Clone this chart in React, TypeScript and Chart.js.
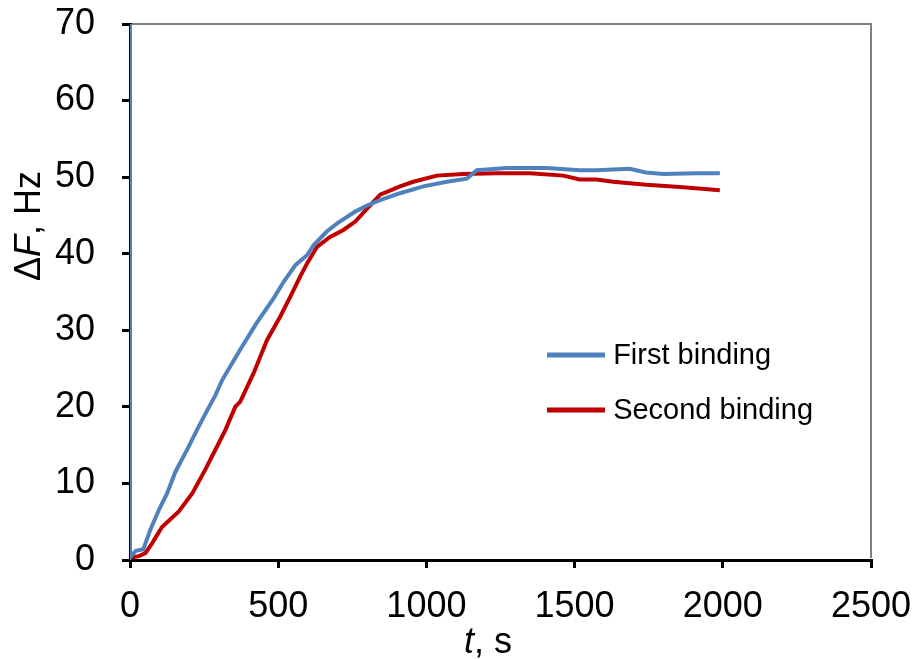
import React, { useEffect, useRef } from "react";
import { Chart, registerables } from "chart.js";

Chart.register(...registerables);

// First binding (blue)
const firstTimes = [0, 0, 10, 20, 45, 69, 97, 125, 153, 198, 226, 260, 288, 311, 372, 428, 485, 518, 558, 597, 619, 664, 700, 760, 800, 844, 911, 990, 1069, 1136, 1170, 1271, 1406, 1517, 1574, 1686, 1740, 1799, 1911, 1990];
const firstValues = [75, 0.3, 0.8, 1.2, 1.4, 4.0, 6.5, 8.7, 11.5, 14.8, 17.0, 19.5, 21.5, 23.5, 27.5, 31.0, 34.2, 36.3, 38.5, 39.8, 41.1, 42.9, 44.0, 45.5, 46.3, 47.0, 47.9, 48.8, 49.4, 49.8, 50.9, 51.2, 51.2, 50.9, 50.9, 51.1, 50.6, 50.4, 50.5, 50.5];

// Second binding (red)
const secondTimes = [0, 30, 52, 75, 108, 164, 210, 254, 288, 322, 355, 372, 417, 462, 507, 541, 574, 597, 631, 675, 720, 760, 810, 844, 911, 956, 1035, 1125, 1237, 1349, 1462, 1517, 1574, 1630, 1742, 1855, 1990];
const secondValues = [0.3, 0.5, 0.9, 2.2, 4.3, 6.3, 8.7, 11.8, 14.4, 17.0, 20.0, 20.7, 24.4, 28.7, 31.8, 34.4, 37.0, 38.7, 40.9, 42.2, 43.1, 44.2, 46.3, 47.7, 48.8, 49.4, 50.2, 50.4, 50.5, 50.5, 50.2, 49.7, 49.7, 49.4, 49.0, 48.7, 48.3];

const seriesNames = ["First binding", "Second binding"];
const seriesColors = ["#4F81BD", "#C00000"];

const FONT = "'Liberation Sans', Arial, sans-serif";

const overlayPlugin = {
  id: "overlay",
  afterDraw(chart: any) {
    const ctx = chart.ctx;
    const ca = chart.chartArea;
    const w = ca.right - ca.left;
    const h = ca.bottom - ca.top;
    ctx.save();
    // top/right frame
    ctx.strokeStyle = "#808080";
    ctx.lineWidth = 2;
    ctx.beginPath();
    ctx.moveTo(ca.left + 2, ca.top);
    ctx.lineTo(ca.right, ca.top);
    ctx.lineTo(ca.right, ca.bottom - 2);
    ctx.stroke();

    // legend
    ctx.font = `29px ${FONT}`;
    ctx.textBaseline = "middle";
    ctx.textAlign = "left";
    const lx0 = ca.left + 0.5628 * w;
    const lx1 = ca.left + 0.641 * w;
    const tx = ca.left + 0.652 * w;
    const ys = [ca.top + 0.6175 * h, ca.top + 0.72 * h];
    seriesNames.forEach((name, i) => {
      ctx.strokeStyle = seriesColors[i];
      ctx.lineWidth = 5;
      ctx.beginPath();
      ctx.moveTo(lx0, ys[i]);
      ctx.lineTo(lx1, ys[i]);
      ctx.stroke();
      ctx.fillStyle = "#000";
      ctx.fillText(name, tx, ys[i] + 1);
    });

    // x title: "t, s"
    ctx.textBaseline = "alphabetic";
    const parts = (pieces: [string, boolean][], x: number, y: number) => {
      let cx = x;
      for (const [s, it] of pieces) {
        ctx.font = `${it ? "italic " : ""}36px ${FONT}`;
        ctx.fillText(s, cx, y);
        cx += ctx.measureText(s).width;
      }
    };
    const widthOf = (pieces: [string, boolean][]) => {
      let t = 0;
      for (const [s, it] of pieces) {
        ctx.font = `${it ? "italic " : ""}36px ${FONT}`;
        t += ctx.measureText(s).width;
      }
      return t;
    };
    const xt: [string, boolean][] = [["t", true], [", s", false]];
    const xw = widthOf(xt);
    const xcx = ca.left + 0.483 * w;
    parts(xt, xcx - xw / 2, chart.height - 6);

    // y title: "ΔF, Hz"
    const yt: [string, boolean][] = [["Δ", false], ["F", true], [", Hz", false]];
    const yw = widthOf(yt);
    ctx.translate(40, ca.top + 0.377 * h);
    ctx.rotate(-Math.PI / 2);
    parts(yt, -yw / 2, 0);
    ctx.restore();
  },
};

export default function App() {
  const ref = useRef<HTMLCanvasElement>(null);
  useEffect(() => {
    const chart = new Chart(ref.current!, {
      type: "line",
      data: {
        datasets: [
          {
            label: seriesNames[0],
            data: firstTimes.map((t, i) => ({ x: t, y: firstValues[i] })),
            borderColor: seriesColors[0],
            backgroundColor: seriesColors[0],
            borderWidth: 4,
            pointRadius: 0,
            tension: 0,
          },
          {
            label: seriesNames[1],
            data: secondTimes.map((t, i) => ({ x: t, y: secondValues[i] })),
            borderColor: seriesColors[1],
            backgroundColor: seriesColors[1],
            borderWidth: 4,
            pointRadius: 0,
            tension: 0,
          },
        ],
      },
      options: {
        animation: false,
        responsive: false,
        maintainAspectRatio: false,
        layout: { padding: { top: 24, right: 44, left: 0, bottom: 0 } },
        plugins: { legend: { display: false }, tooltip: { enabled: false } },
        scales: {
          x: {
            type: "linear",
            min: 0,
            max: 2500,
            ticks: { stepSize: 500, color: "#000", font: { family: FONT, size: 36 }, padding: 17, maxRotation: 0, callback: (v: any) => String(v) },
            grid: { drawOnChartArea: false, drawTicks: true, tickLength: 8, color: "#000", lineWidth: 3 },
            border: { display: true, color: "#000", width: 3 },
            afterFit: (s: any) => { s.height = 99; s.paddingLeft = 0; s.paddingRight = 0; s.paddingTop = 0; s.paddingBottom = 0; },
          },
          y: {
            min: 0,
            max: 70,
            ticks: { stepSize: 10, color: "#000", font: { family: FONT, size: 36 }, padding: 27, callback: (v: any) => String(v) },
            grid: { drawOnChartArea: false, drawTicks: true, tickLength: 8, color: "#000", lineWidth: 3 },
            border: { display: true, color: "#000", width: 3 },
            afterFit: (s: any) => { s.width = 130; s.paddingLeft = 0; s.paddingRight = 0; s.paddingTop = 0; s.paddingBottom = 0; },
          },
        },
      } as any,
      plugins: [overlayPlugin],
    });
    return () => chart.destroy();
  }, []);
  return (
    <div style={{ position: "absolute", left: 0, top: 0, width: 915, height: 659, background: "#fff" }}>
      <canvas ref={ref} width={915} height={659} style={{ display: "block" }} />
    </div>
  );
}
